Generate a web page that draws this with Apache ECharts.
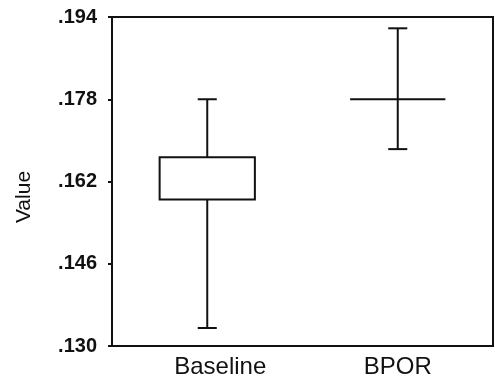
<!DOCTYPE html>
<html>
<head>
<meta charset="utf-8">
<script src="https://cdn.jsdelivr.net/npm/echarts@6/dist/echarts.min.js"></script>
<style>
  html, body { margin: 0; padding: 0; background: #fff; }
  #chart { width: 495px; height: 384px; }
</style>
</head>
<body>
<div id="chart"></div>
<script>
var categories = ["Baseline", "BPOR"];
// whisker low / box bottom / box top / whisker high
var lows = [0.1335, 0.1683];
var q1s = [0.1585, 0.178];
var q3s = [0.1667, 0.178];
var highs = [0.178, 0.1918];
var yTicks = [0.130, 0.146, 0.162, 0.178, 0.194];

var chart = echarts.init(document.getElementById("chart"));

var seriesData = categories.map(function (c, i) {
  return [i, lows[i], q1s[i], q3s[i], highs[i]];
});

function renderBox(params, api) {
  var i = api.value(0);
  var band = api.size([1, 0])[0];
  var boxW = band * 0.5;
  var capW = band * 0.1;
  var pLow = api.coord([i, api.value(1)]);
  var pQ1 = api.coord([i, api.value(2)]);
  var pQ3 = api.coord([i, api.value(3)]);
  var pHigh = api.coord([i, api.value(4)]);
  var x = pLow[0];
  var style = { stroke: "#111", lineWidth: 2, fill: null };
  var children = [];
  if (Math.abs(pQ1[1] - pQ3[1]) > 1) {
    children.push({
      type: "rect",
      shape: { x: x - boxW / 2, y: pQ3[1], width: boxW, height: pQ1[1] - pQ3[1] },
      style: { stroke: "#111", lineWidth: 2, fill: "#fff" }
    });
  } else {
    children.push({
      type: "line",
      shape: { x1: x - boxW / 2, y1: pQ1[1], x2: x + boxW / 2, y2: pQ1[1] },
      style: style
    });
  }
  children.push(
    { type: "line", shape: { x1: x, y1: pHigh[1], x2: x, y2: pQ3[1] }, style: style },
    { type: "line", shape: { x1: x, y1: pQ1[1], x2: x, y2: pLow[1] }, style: style },
    { type: "line", shape: { x1: x - capW / 2, y1: pHigh[1], x2: x + capW / 2, y2: pHigh[1] }, style: style },
    { type: "line", shape: { x1: x - capW / 2, y1: pLow[1], x2: x + capW / 2, y2: pLow[1] }, style: style }
  );
  return { type: "group", children: children };
}

var option = {
  backgroundColor: "#fff",
  animation: false,
  grid: {
    left: 112, top: 17, right: 2, bottom: 38,
    show: true, borderColor: "#111", borderWidth: 2
  },
  xAxis: {
    type: "category",
    data: [
      { value: categories[0], textStyle: { padding: [0, 0, 0, 26] } },
      categories[1]
    ],
    axisLine: { lineStyle: { color: "#111", width: 2 } },
    axisTick: { show: false },
    axisLabel: {
      color: "#111", fontSize: 24, margin: 9,
      fontFamily: "Liberation Sans, Arial, sans-serif"
    }
  },
  yAxis: {
    type: "value",
    min: yTicks[0],
    max: yTicks[yTicks.length - 1],
    interval: 0.016,
    splitLine: { show: false },
    axisLine: { show: true, lineStyle: { color: "#111", width: 2 } },
    axisTick: { show: true, length: 4, lineStyle: { color: "#111", width: 2 } },
    axisLabel: {
      color: "#111", fontSize: 20, fontWeight: "bold", margin: 15,
      fontFamily: "Liberation Sans, Arial, sans-serif",
      formatter: function (v) { return v.toFixed(3).replace(/^0/, ""); }
    }
  },
  graphic: [{
    type: "text",
    x: 24, y: 197,
    rotation: Math.PI / 2,
    style: {
      text: "Value", fill: "#111", fontSize: 21,
      fontFamily: "Liberation Sans, Arial, sans-serif",
      textAlign: "center", textVerticalAlign: "middle"
    }
  }],
  series: [{
    type: "custom",
    renderItem: renderBox,
    encode: { x: 0, y: [1, 2, 3, 4] },
    data: seriesData
  }]
};

chart.setOption(option);
</script>
</body>
</html>
